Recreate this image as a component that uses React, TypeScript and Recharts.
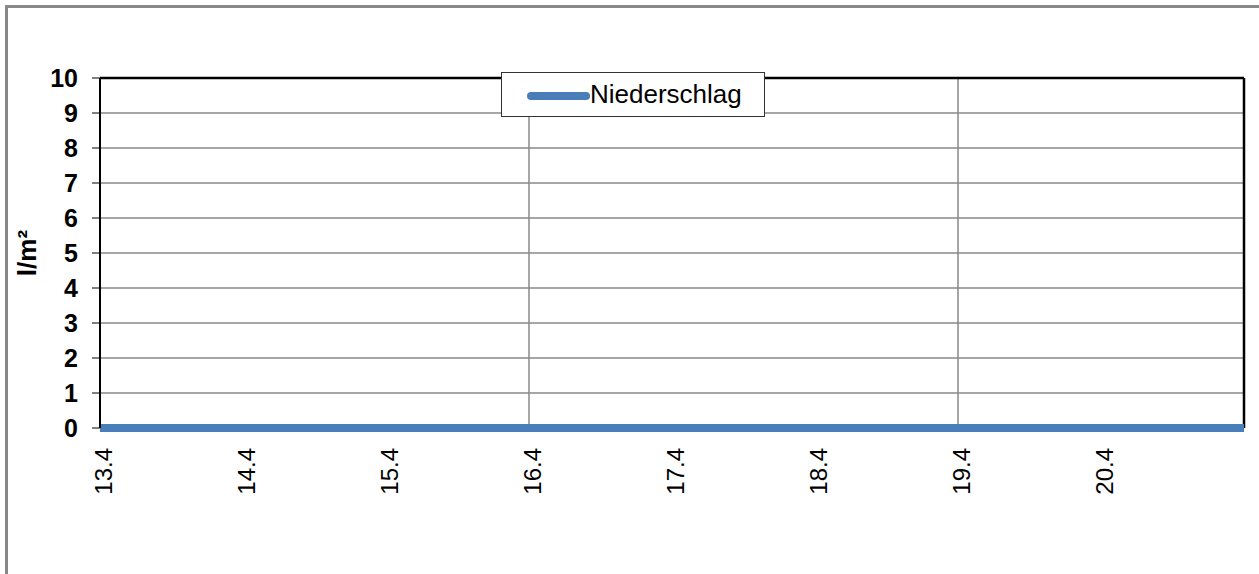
import React from "react";
import { LineChart, Line, XAxis, YAxis, CartesianGrid, ReferenceLine } from "recharts";

// days since 13.4 (0 = 13.4, 8 = 21.4)
const days = [0, 1, 2, 3, 4, 5, 6, 7, 8];
const niederschlag = [0, 0, 0, 0, 0, 0, 0, 0, 0];
const dayLabels = ["13.4", "14.4", "15.4", "16.4", "17.4", "18.4", "19.4", "20.4"];
const yTicks = [0, 1, 2, 3, 4, 5, 6, 7, 8, 9, 10];
const weekLines = [3, 6];

const data = days.map((d, i) => ({ day: d, value: niederschlag[i] }));

const font = "Arial, 'Liberation Sans', sans-serif";
const blue = "#4a7ebb";

const XTick = (props: any) => {
  const { x, y, payload } = props;
  return (
    <text
      x={x}
      y={y}
      transform={`rotate(-90, ${x}, ${y})`}
      textAnchor="end"
      dy="0.5em"
      fontFamily={font}
      fontSize={24}
      fill="#000"
    >
      {dayLabels[payload.value]}
    </text>
  );
};

const LegendBox = () => (
  <div
    style={{
      position: "absolute",
      left: 501,
      top: 72,
      width: 262,
      height: 43,
      border: "1px solid #333",
      background: "#fff",
      display: "flex",
      alignItems: "center",
      fontFamily: font,
      fontSize: 26,
      color: "#000",
    }}
  >
    <svg width={88} height={20} style={{ flex: "none" }}>
      <line x1={29} y1={11} x2={84} y2={11} stroke={blue} strokeWidth={8} strokeLinecap="round" />
    </svg>
    <span>Niederschlag</span>
  </div>
);

export default function App() {
  return (
    <div style={{ position: "absolute", left: 0, top: 0, width: 1259, height: 574, background: "#fff" }}>
      <div
        style={{
          position: "absolute",
          left: 5,
          top: 5,
          width: 1254,
          height: 569,
          borderLeft: "3px solid #888",
          borderTop: "3px solid #888",
        }}
      />
      <div style={{ position: "absolute", left: 0, top: 0 }}>
        <LineChart width={1259} height={574} data={data} margin={{ top: 78, right: 15, bottom: 86, left: 40 }}>
          <CartesianGrid vertical={false} stroke="#888" strokeWidth={1.5} />
          {weekLines.map((w) => (
            <ReferenceLine key={w} x={w} stroke="#888" strokeWidth={1.5} />
          ))}
          <XAxis
            dataKey="day"
            type="number"
            domain={[0, 8]}
            ticks={[0, 1, 2, 3, 4, 5, 6, 7]}
            interval={0}
            axisLine={false}
            tickLine={false}
            tick={<XTick />}
            tickMargin={14}
            height={60}
          />
          <YAxis
            type="number"
            domain={[0, 10]}
            ticks={yTicks}
            interval={0}
            width={60}
            axisLine={{ stroke: "#000", strokeWidth: 2 }}
            tickLine={{ stroke: "#000", strokeWidth: 1 }}
            tickSize={8}
            tickMargin={14}
            tick={{ fontFamily: font, fontSize: 25, fontWeight: "bold", fill: "#000" }}
            label={{
              value: "l/m²",
              angle: -90,
              position: "insideLeft",
              offset: -13,
              style: { fontFamily: font, fontSize: 26, fontWeight: "bold", fill: "#000", textAnchor: "middle" },
            }}
          />
          <ReferenceLine y={10} stroke="#000" strokeWidth={2.5} />
          <ReferenceLine x={8} stroke="#000" strokeWidth={2.5} />
          <Line
            type="linear"
            dataKey="value"
            name="Niederschlag"
            stroke={blue}
            strokeWidth={8}
            dot={false}
            isAnimationActive={false}
          />
        </LineChart>
      </div>
      <LegendBox />
    </div>
  );
}
